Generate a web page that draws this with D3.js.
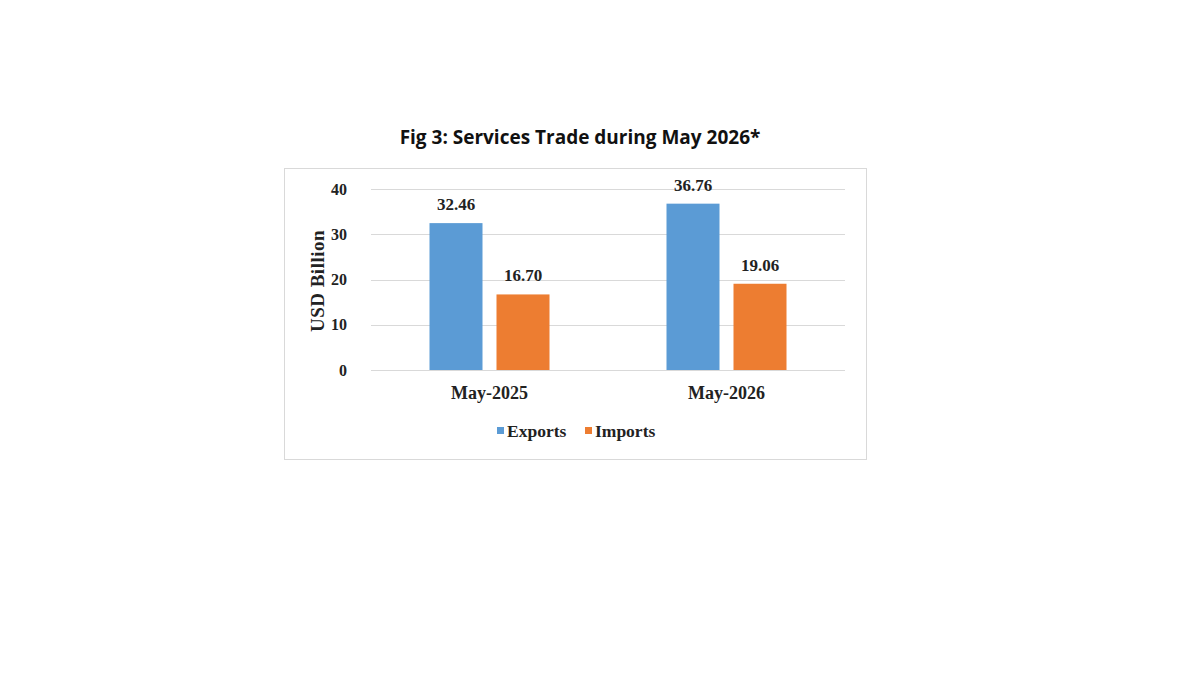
<!DOCTYPE html>
<html>
<head>
<meta charset="utf-8">
<script src="https://cdn.jsdelivr.net/npm/d3@7"></script>
<style>
  body { margin: 0; background: #fff; }
  svg { display: block; }
</style>
</head>
<body>
<div class="chart"></div>
<script>
// services trade, exports vs imports

var categories = ["May-2025", "May-2026"];
var seriesNames = ["Exports", "Imports"];
var exportsVals = [32.46, 36.76];
var importsVals = [16.70, 19.06];
var yTicks = [0, 10, 20, 30, 40];

var colors = {Exports: "#5b9bd5", Imports: "#ed7d31"};

var W = 1200, H = 675;

var svg = d3.select(".chart").append("svg")
    .attr("width", W)
    .attr("height", H);

// title
svg.append("text")
    .attr("x", 580).attr("y", 144)
    .attr("text-anchor", "middle")
    .style("font-family", "'Open Sans', 'Liberation Sans', sans-serif")
    .style("font-weight", "bold")
    .style("font-size", "19px")
    .style("fill", "#111")
    .text("Fig 3: Services Trade during May 2026*");

// chart frame
svg.append("rect")
    .attr("x", 284.5).attr("y", 168.5)
    .attr("width", 582).attr("height", 291)
    .attr("fill", "none")
    .attr("stroke", "#d9d9d9")
    .attr("stroke-width", 1);

var plot = {left: 371, right: 845, top: 189, bottom: 370};

var x0 = d3.scaleBand().domain(categories).range([plot.left, plot.right]);
var y = d3.scaleLinear().domain([0, 40]).range([plot.bottom, plot.top]);

var serif = "'Liberation Serif', 'DejaVu Serif', serif";

/* gridlines */
svg.append("g").selectAll("line")
    .data(yTicks).enter().append("line")
    .attr("x1", plot.left).attr("x2", plot.right)
    .attr("y1", function(d) { return Math.round(y(d)) + 0.5; })
    .attr("y2", function(d) { return Math.round(y(d)) + 0.5; })
    .attr("stroke", "#d9d9d9")
    .attr("stroke-width", 1);

/* y axis tick labels */
var yAxis = svg.append("g")
    .attr("transform", "translate(" + plot.left + ",0)")
    .call(d3.axisLeft(y).tickValues(yTicks).tickSize(0).tickPadding(24));
yAxis.select(".domain").remove();
yAxis.selectAll("text")
    .style("font-family", serif)
    .style("font-weight", "bold")
    .style("font-size", "16px")
    .style("fill", "#222");

// y axis title
svg.append("text")
    .attr("transform", "translate(324,281) rotate(-90)")
    .attr("text-anchor", "middle")
    .style("font-family", serif)
    .style("font-weight", "bold")
    .style("font-size", "19px")
    .style("letter-spacing", "0.5px")
    .style("fill", "#222")
    .text("USD Billion");

/* bars */
var data = categories.map(function(c, i) {
    return {cat: c, values: [
        {name: "Exports", v: exportsVals[i]},
        {name: "Imports", v: importsVals[i]}
    ]};
});

var barW = 53, gap = 14;
var x1 = function(j) { return -barW - gap / 2 + j * (barW + gap); };

var groups = svg.append("g").selectAll("g")
    .data(data).enter().append("g")
    .attr("transform", function(d) {
        return "translate(" + (x0(d.cat) + x0.bandwidth() / 2) + ",0)";
    });

groups.selectAll("rect")
    .data(function(d) { return d.values; })
    .enter().append("rect")
    .attr("x", function(d, j) { return x1(j); })
    .attr("y", function(d) { return y(d.v); })
    .attr("width", barW)
    .attr("height", function(d) { return y(0) - y(d.v); })
    .attr("fill", function(d) { return colors[d.name]; });

groups.selectAll("text.val")
    .data(function(d) { return d.values; })
    .enter().append("text")
    .attr("class", "val")
    .attr("x", function(d, j) { return x1(j) + barW / 2; })
    .attr("y", function(d) { return y(d.v) - 13; })
    .attr("text-anchor", "middle")
    .style("font-family", serif)
    .style("font-weight", "bold")
    .style("font-size", "17px")
    .style("fill", "#222")
    .text(function(d) { return d.v.toFixed(2); });

/* category labels */
svg.append("g").selectAll("text")
    .data(categories).enter().append("text")
    .attr("x", function(d) { return x0(d) + x0.bandwidth() / 2; })
    .attr("y", 399)
    .attr("text-anchor", "middle")
    .style("font-family", serif)
    .style("font-weight", "bold")
    .style("font-size", "18px")
    .style("fill", "#222")
    .text(function(d) { return d; });

/* legend */
var legend = svg.append("g").attr("transform", "translate(497,0)");
var legX = [0, 88];
seriesNames.forEach(function(name, i) {
    legend.append("rect")
        .attr("x", legX[i]).attr("y", 427)
        .attr("width", 7).attr("height", 7)
        .attr("fill", colors[name]);
    legend.append("text")
        .attr("x", legX[i] + 10).attr("y", 437)
        .style("font-family", serif)
        .style("font-weight", "bold")
        .style("font-size", "17.5px")
        .style("fill", "#222")
        .text(name);
});
</script>
</body>
</html>
